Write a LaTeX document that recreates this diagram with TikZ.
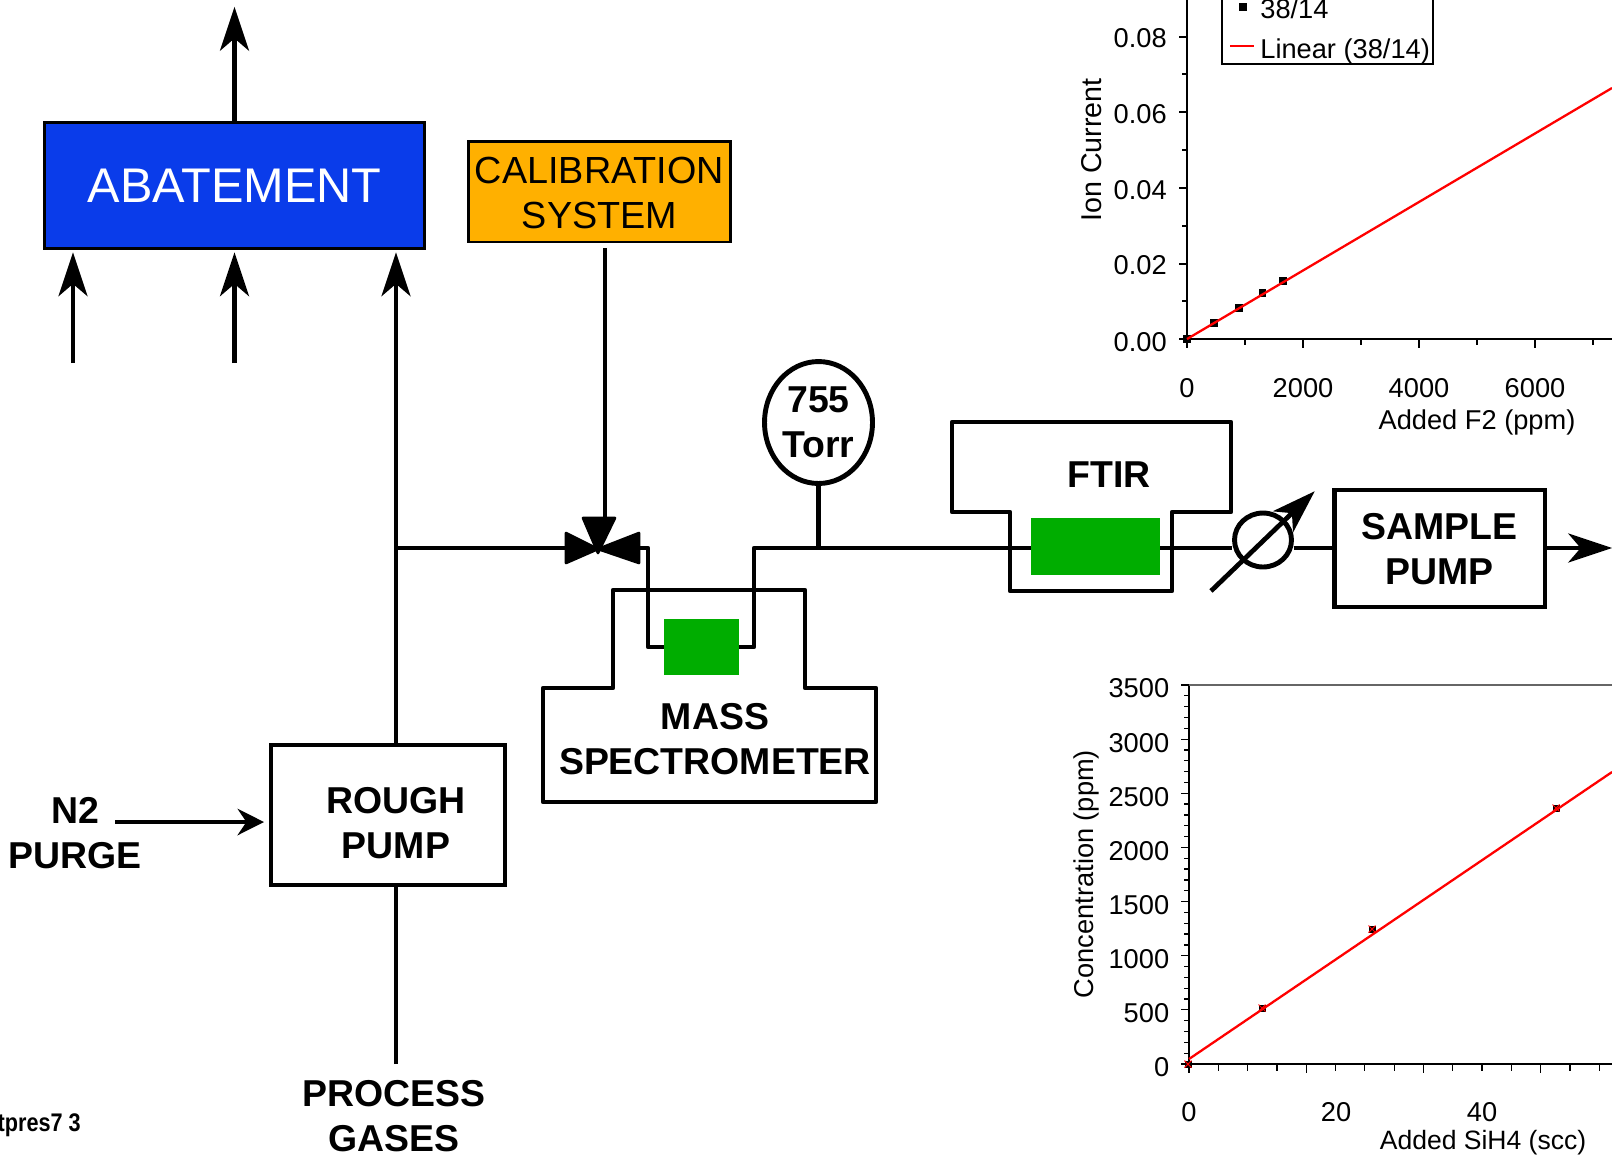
\documentclass[tikz,border=0pt]{standalone}
\usepackage{fontspec}
\setmainfont{Liberation Sans}
\usetikzlibrary{arrows.meta,shapes.geometric}
\definecolor{abateblue}{HTML}{0A3CEA}
\definecolor{calorange}{HTML}{FFB000}
\definecolor{cellgreen}{HTML}{00AD00}
\tikzset{
  pipe/.style={line width=2.7pt,line join=round},
  flow/.style={pipe,shorten >=1pt,-{Stealth[length=25pt,width=16.5pt,inset=7pt]}},
  smallflow/.style={pipe,-{Stealth[length=15pt,width=15pt,inset=5pt]}},
  pumpbox/.style={draw,line width=2.8pt,align=center,inner sep=0pt,font=\fontsize{21.3}{25.6}\selectfont\bfseries},
  colorbox/.style={draw,line width=1.7pt,align=center,inner sep=0pt},
  cell/.style={fill=cellgreen,inner sep=0pt},
  tag/.style={align=center,font=\fontsize{21.3}{25.6}\selectfont\bfseries},
  plottext/.style={font=\fontsize{15.5}{18}\selectfont,inner sep=0pt},
  axisline/.style={line width=0.7pt},
  fitline/.style={red,line width=1.3pt},
  datum/.style={fill=black,minimum size=4.2pt,inner sep=0pt},
}
\begin{document}
\begin{tikzpicture}[x=0.02cm,y=-0.02cm]
  \useasboundingbox (0,0) rectangle (1612,1154);
  \node[colorbox,fill=abateblue,text=white,minimum width=380pt*0.569,minimum height=127pt*0.569,font=\fontsize{27.7}{32}\selectfont] (abatement) at (234.5,185.5) {ABATEMENT};
  \node[colorbox,fill=calorange,minimum width=263pt*0.569,minimum height=101pt*0.569,font=\fontsize{21.5}{25.6}\selectfont] (calibration) at (599.5,191.5) {\rule{0pt}{16.7pt}CALIBRATION\\SYSTEM};
  \node[pumpbox,minimum width=234pt*0.569,minimum height=140pt*0.569] (roughpump) at (388,815) {\hspace*{9pt}\rule{0pt}{24pt}ROUGH\\\hspace*{9pt}PUMP};
  \node[pumpbox,minimum width=211pt*0.569,minimum height=117pt*0.569] (samplepump) at (1439.5,548.5) {\rule{0pt}{16pt}SAMPLE\\PUMP};
  \node[ellipse,draw,line width=2.8pt,inner sep=0pt,minimum width=108pt*0.569,minimum height=122pt*0.569,align=center,font=\fontsize{21.3}{25.6}\selectfont\bfseries] (gauge) at (818.5,422.5) {755\\Torr};
  \node[ellipse,draw,line width=2.8pt,inner sep=0pt,minimum width=57pt*0.569,minimum height=54pt*0.569] (meter) at (1263,540) {};
  \node[cell,minimum width=75pt*0.569,minimum height=56pt*0.569] (mscell) at (701.5,647) {};
  \node[cell,minimum width=129pt*0.569,minimum height=57pt*0.569] (ftircell) at (1095.5,546.5) {};
  \node[tag] (ftir) at (1109,475) {FTIR};
  \node[tag] (massspec) at (715,739) {MASS\\SPECTROMETER};
  \node[tag] (purge) at (75,833.5) {N2\\PURGE};
  \node[tag] (gases) at (394,1116.5) {PROCESS\\GASES};
  \node[font=\fontsize{14.5}{16}\selectfont\bfseries,anchor=east,inner sep=0pt,xscale=0.85] (pagetag) at (81,1125) {tpres7 3};

  \coordinate (tee) at (396,548);
  \coordinate (valve) at (598,549);
  \coordinate (valveleft) at (566,548);
  \coordinate (valveright) at (639,548);
  \coordinate (valvetop) at (605,517);
  \coordinate (outtop) at (234.5,5);
  \coordinate (ventleft) at (73,363);
  \coordinate (ventright) at (234.5,363);
  \coordinate (gastail) at (396,1064);
  \coordinate (purgetail) at (115,822);
  \coordinate (roughin) at (264,822);
  \coordinate (exit) at (1614,548);
  \coordinate (msin) at (648,548);
  \coordinate (msinlow) at (648,647);
  \coordinate (msout) at (754,548);
  \coordinate (msoutlow) at (754,647);
  \coordinate (metertail) at (1211,591);
  \coordinate (metertip) at (1316,490);

  \draw[flow] (abatement.north) -- (outtop);
  \draw[flow] (ventleft) -- (ventleft |- abatement.south);
  \draw[flow] (ventright) -- (ventright |- abatement.south);
  \draw[flow] (roughpump.north -| tee) -- (abatement.south -| tee);
  \draw[pipe] (gastail) -- (roughpump.south -| gastail);
  \draw[smallflow] (purgetail) -- (roughin);
  \draw[pipe] (tee) -- (valveleft);
  \draw[pipe] (valvetop |- calibration.south) ++(0,5) -- (valvetop);
  \draw[pipe] (valveright) -- (msin) -- (msinlow) -- (mscell.west |- msinlow);
  \draw[pipe] (mscell.east |- msoutlow) -- (msoutlow) -- (msout) -- (ftircell.west |- msout);
  \draw[pipe] (gauge.south) -- (gauge.south |- msout);
  \draw[pipe] (ftircell.east |- msout) -- (meter.west |- msout);
  \draw[pipe] (meter.east |- msout) -- (samplepump.west |- msout);
  \draw[flow] (samplepump.east |- exit) -- (exit);
  \draw[flow] (metertail) -- (metertip);

  \draw[fill,line width=1.5pt,line join=round] (valve) -- (566,533) -- (566,563) -- cycle;
  \draw[fill,line width=1.5pt,line join=round] (valve) -- (639,533) -- (639,563) -- cycle;
  \draw[fill,line width=1.5pt,line join=round] (598,553) -- (583,518) -- (615,518) -- cycle;

  \draw[pipe] (613,688) -- (613,590) -- (805,590) -- (805,688) -- (876,688) -- (876,802) -- (543,802) -- (543,688) -- cycle;
  \draw[pipe] (1010,591) -- (1010,512) -- (952,512) -- (952,422) -- (1231,422) -- (1231,512) -- (1172,512) -- (1172,591) -- cycle;

  \draw[axisline] (1187,0) -- (1187,339) -- (1612,339);
  \foreach \ypos in {37,112,188,264,339}
    \draw[axisline] (1179,\ypos) -- (1187,\ypos);
  \foreach \ypos in {74,150,226,301}
    \draw[axisline] (1182,\ypos) -- (1187,\ypos);
  \foreach \xpos in {1187,1303,1419,1535}
    \draw[axisline] (\xpos,339) -- (\xpos,348);
  \foreach \xpos in {1245,1361,1477,1593}
    \draw[axisline] (\xpos,339) -- (\xpos,345);
  \foreach \ypos/\ytext in {38/0.08,114/0.06,190/0.04,265/0.02,342/0.00}
    \node[plottext,anchor=east] (f\ypos) at (1167,\ypos) {\ytext};
  \foreach \xpos/\xtext in {1187/0,1303/2000,1419/4000,1535/6000}
    \node[plottext] (g\xpos) at (\xpos,388) {\xtext};
  \node[plottext] (ftitle) at (1477,422) {Added F2 (ppm)};
  \node[plottext,rotate=90,font=\fontsize{16.3}{18}\selectfont] (fylabel) at (1092,150) {Ion Current};
  \draw[line width=0.6pt] (1222,0) -- (1222,64) -- (1433,64) -- (1433,0);
  \node[datum] (legmark) at (1243,7) {};
  \node[plottext,anchor=west] (legdata) at (1260,9) {38/14};
  \node[plottext,anchor=west] (legfit) at (1260,51) {Linear (38/14)};
  \draw[fitline] (1230,46) -- (1254,46);
  \foreach \xpos/\ypos in {1187/339,1214/323,1239/308,1262.5/293,1283/281}
    \node[datum] at (\xpos,\ypos) {};
  \draw[fitline] (1187,339) -- (1612,88);

  \draw[axisline] (1189,685) -- (1189,1064) -- (1612,1064);
  \draw[axisline,black!60] (1181,685) -- (1612,685);
  \foreach \k in {1,...,34}
    \draw[axisline] (1184,{1064-\k*10.83}) -- (1189,{1064-\k*10.83});
  \foreach \k in {0,...,7}
    \draw[axisline] (1181,{1064-\k*54.14}) -- (1189,{1064-\k*54.14});
  \foreach \k in {0,...,14}
    \draw[axisline] ({1189+\k*29.3},1064) -- ({1189+\k*29.3},1071);
  \foreach \k in {0,4,8,12}
    \draw[axisline] ({1189+\k*29.3},1064) -- ({1189+\k*29.3},1073);
  \foreach \k/\ytext in {0/0,1/500,2/1000,3/1500,4/2000,5/2500,6/3000,7/3500}
    \node[plottext,anchor=east] (s\k) at (1169.5,{1067.5-\k*54.14}) {\ytext};
  \foreach \xpos/\xtext in {1189/0,1336/20,1482/40}
    \node[plottext] (t\xpos) at (\xpos,1112) {\xtext};
  \node[plottext,font=\fontsize{15.1}{18}\selectfont] (stitle) at (1483,1142.5) {Added SiH4 (scc)};
  \node[plottext,rotate=90] (sylabel) at (1086,874) {Concentration (ppm)};
  \foreach \xpos/\ypos in {1188/1064,1262/1008,1372/929,1556/808}{
    \node[datum,minimum size=4pt] at (\xpos,\ypos) {};
    \draw[red,line width=0.6pt] (\xpos-3.5,\ypos-3.5) -- (\xpos+3.5,\ypos+3.5) (\xpos-3.5,\ypos+3.5) -- (\xpos+3.5,\ypos-3.5);
  }
  \draw[fitline] (1189,1059) -- (1612,772);
\end{tikzpicture}
\end{document}
